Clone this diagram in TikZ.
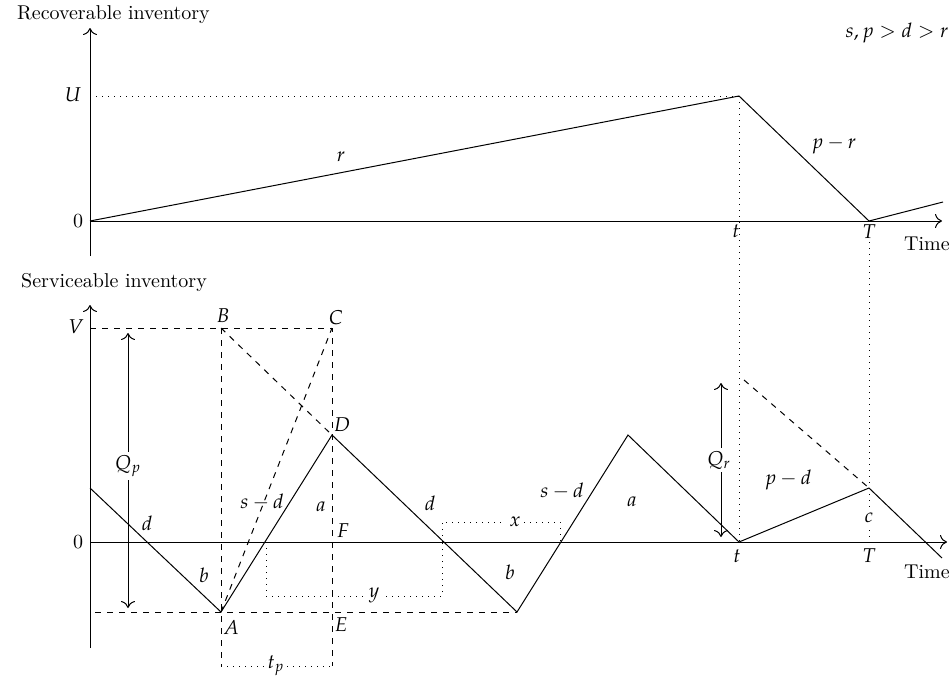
\documentclass[tikz,border=0pt]{standalone}
\usepackage{mathpazo}
\usetikzlibrary{arrows.meta}
\tikzset{lbl/.style={fill=white,inner sep=1.5pt},
  dots/.style={dash pattern=on 0.6pt off 2.4pt}}
\begin{document}
\begin{tikzpicture}[x=0.5pt,y=-0.5pt,line width=0.5pt,>={To[length=3.5pt,width=7pt]}]
        \useasboundingbox (0,0) rectangle (952,681);
        % recoverable inventory
        \coordinate (o1) at (90,221);
        \coordinate (ax1b) at (90,256);
        \coordinate (ax1t) at (90,28);
        \coordinate (ax1e) at (942,221);
        \coordinate (u0) at (90,96);
        \coordinate (peak) at (739,96);
        \coordinate (T1) at (869,221);
        \coordinate (rend) at (943,202);
        \draw[->] (ax1b)--(ax1t);
        \draw[->] (o1)--(ax1e);
        \draw[dots] (u0)--(peak);
        \draw (o1)--(peak)--(T1)--(rend);
        \node[anchor=base west] (rec) at (10,19) {Recoverable inventory};
        \node (zero1) at (78,221) {0};
        \node (lu) at (73,95) {$U$};
        \node (lr) at (341,157) {$r$};
        \node (lpr) at (834,145) {$p-r$};
        \node (cond) at (897,33) {$s,p>d>r$};
        \node (lt1) at (736,231) {$t$};
        \node (lT1) at (869,232) {$T$};
        \node (time1) at (927,244) {Time};
        % serviceable inventory
        \coordinate (o2) at (90,542);
        \coordinate (ax2b) at (90,648);
        \coordinate (ax2t) at (90,305);
        \coordinate (ax2e) at (947,542);
        \coordinate (v0) at (90,328);
        \coordinate (B) at (221,328);
        \coordinate (C) at (332,328);
        \coordinate (A) at (221,612);
        \coordinate (D) at (332,435);
        \coordinate (a0) at (95,612);
        \coordinate (low) at (517,612);
        \coordinate (s0) at (90,488);
        \coordinate (top2) at (628,435);
        \coordinate (t2) at (739,542);
        \coordinate (c2) at (869,488);
        \coordinate (send) at (942,558);
        \coordinate (T2) at (869,542);
        \coordinate (Tb) at (869,242);
        \coordinate (Bp) at (221,666);
        \coordinate (Cp) at (332,666);
        \coordinate (q0) at (744,380);
        \coordinate (qp1) at (128,333);
        \coordinate (qp2) at (128,608);
        \coordinate (qr1) at (721,383);
        \coordinate (qr2) at (721,537);
        \coordinate (xb1) at (442,542);
        \coordinate (xb2) at (442,522);
        \coordinate (xb3) at (560,522);
        \coordinate (xb4) at (560,542);
        \coordinate (yb1) at (266,542);
        \coordinate (yb2) at (266,596);
        \coordinate (yb3) at (442,596);
        \draw[->] (ax2b)--(ax2t);
        \draw[->] (o2)--(ax2e);
        \draw[dashed] (v0)--(C)--(Cp);
        \draw[dashed] (B)--(Bp);
        \draw[dashed] (a0)--(low);
        \draw[dashed] (B)--(D);
        \draw[dashed] (A)--(C);
        \draw[dashed] (q0)--(c2);
        \draw (s0)--(A)--(D)--(low)--(top2)--(t2)--(c2)--(send);
        \draw[dots] (peak)--(t2);
        \draw[dots] (Tb)--(T2);
        \draw[dots] (Bp)--(Cp);
        \draw[dots] (xb1)--(xb2)--(xb3)--(xb4);
        \draw[dots] (yb1)--(yb2)--(yb3)--(xb1);
        \draw[<->] (qp1)--(qp2);
        \draw[<->] (qr1)--(qr2);
        \node[anchor=base west] (ser) at (14,287) {Serviceable inventory};
        \node (zero2) at (78,542) {0};
        \node (lv) at (76,327) {$V$};
        \node (lB) at (223,316) {$B$};
        \node (lC) at (336,318) {$C$};
        \node (lD) at (342,425) {$D$};
        \node (lA) at (231,627) {$A$};
        \node (lE) at (341,625) {$E$};
        \node (lF) at (343,531) {$F$};
        \node (ld1) at (147,523) {$d$};
        \node (lb1) at (204,575) {$b$};
        \node (lsd1) at (262,502) {$s-d$};
        \node (la1) at (321,507) {$a$};
        \node (ld2) at (430,503) {$d$};
        \node (lb2) at (510,572) {$b$};
        \node (lsd2) at (562,491) {$s-d$};
        \node (la2) at (632,502) {$a$};
        \node[lbl] (lx) at (515,522) {$x$};
        \node[lbl] (ly) at (374,595) {$y$};
        \node[lbl] (ltp) at (276,666) {$t_p$};
        \node[lbl] (lqp) at (128,466) {$Q_p$};
        \node[lbl] (lqr) at (719,460) {$Q_r$};
        \node (lpd) at (788,480) {$p-d$};
        \node[lbl] (lc) at (869,518) {$c$};
        \node (lt2) at (737,556) {$t$};
        \node (lT2) at (869,556) {$T$};
        \node (time2) at (927,572) {Time};
\end{tikzpicture}
\end{document}
